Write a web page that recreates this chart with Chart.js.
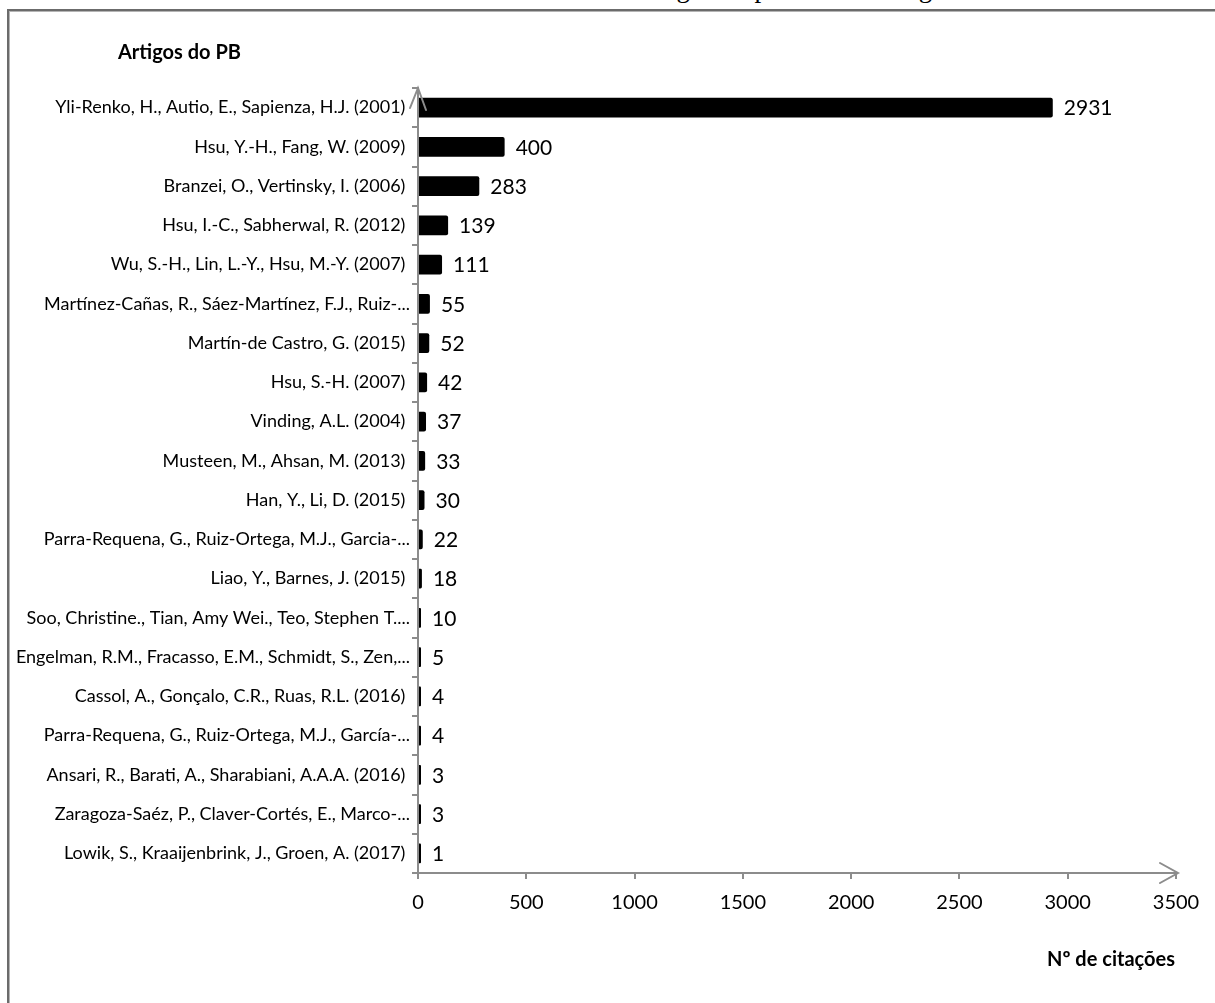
<!DOCTYPE html>
<html lang="pt">
<head>
<meta charset="utf-8">
<script src="https://cdn.jsdelivr.net/npm/chart.js@4.4.1/dist/chart.umd.min.js"></script>
<style>
    html, body { margin: 0; padding: 0; background: #fff; overflow: hidden; }
    #page { position: relative; width: 1215px; height: 1003px; overflow: hidden; }
    #caption {
        position: absolute; left: 60px; width: 1215px; top: -27px;
        text-align: center; font: 27px "Liberation Serif", "DejaVu Serif", serif; color: #000;
        line-height: 30px; white-space: nowrap;
    }
    #frame {
        position: absolute; left: 7px; top: 9px; width: 1300px; height: 1100px;
        border-left: 2px solid #6b6b6b; border-top: 2px solid #6b6b6b;
        box-shadow: inset 1px 1px 0 #b4b4b4;
    }
    #chartBox { position: absolute; left: 0; top: 0; width: 1215px; height: 1003px; }
</style>
</head>
<body>
<div id="page">
    <div id="caption">Gráfico 4 – Relevância dos artigos do portfólio bibliográfico</div>
    <div id="frame"></div>
    <div id="chartBox"><canvas id="citationsChart" width="1215" height="1003"></canvas></div>
</div>
<script>
// Artigos do portfólio bibliográfico e número de citações
const articles = [
    'Yli-Renko, H., Autio, E., Sapienza, H.J. (2001) ',
    'Hsu, Y.-H., Fang, W. (2009) ',
    'Branzei, O., Vertinsky, I. (2006) ',
    'Hsu, I.-C., Sabherwal, R. (2012) ',
    'Wu, S.-H., Lin, L.-Y., Hsu, M.-Y. (2007) ',
    'Martínez-Cañas, R., Sáez-Martínez, F.J., Ruiz-...',
    'Martín-de Castro, G. (2015) ',
    'Hsu, S.-H. (2007) ',
    'Vinding, A.L. (2004) ',
    'Musteen, M., Ahsan, M. (2013) ',
    'Han, Y., Li, D. (2015) ',
    'Parra-Requena, G., Ruiz-Ortega, M.J., Garcia-...',
    'Liao, Y., Barnes, J. (2015) ',
    'Soo, Christine., Tian, Amy Wei., Teo, Stephen T....',
    'Engelman, R.M., Fracasso, E.M., Schmidt, S., Zen,...',
    'Cassol, A., Gonçalo, C.R., Ruas, R.L. (2016) ',
    'Parra-Requena, G., Ruiz-Ortega, M.J., García-...',
    'Ansari, R., Barati, A., Sharabiani, A.A.A. (2016) ',
    'Zaragoza-Saéz, P., Claver-Cortés, E., Marco-...',
    'Lowik, S., Kraaijenbrink, J., Groen, A. (2017) '
];
const citations = [2931, 400, 283, 139, 111, 55, 52, 42, 37, 33, 30, 22, 18, 10, 5, 4, 4, 3, 3, 1];

const xMin = 0;
const xMax = 3500;
const xStep = 500;

const yAxisTitle = 'Artigos do PB';
const xAxisTitle = 'Nº de citações';

const AXIS_GRAY = '#8c8c8c';
const LABEL_FONT = 'Lato, "Open Sans", sans-serif';

// Valores ao lado de cada barra
const valueLabels = {
    id: 'valueLabels',
    afterDatasetsDraw(chart) {
        const { ctx } = chart;
        const meta = chart.getDatasetMeta(0);
        ctx.save();
        ctx.fillStyle = '#000';
        ctx.font = `21px ${LABEL_FONT}`;
        ctx.textBaseline = 'middle';
        ctx.textAlign = 'left';
        meta.data.forEach((bar, i) => {
            ctx.fillText(String(citations[i]), bar.x + 11, bar.y + 1);
        });
        ctx.restore();
    }
};

// Setas nos eixos e títulos dos eixos
const axisDecor = {
    id: 'axisDecor',
    afterDraw(chart) {
        const { ctx, chartArea } = chart;
        const { left, top, right, bottom } = chartArea;
        ctx.save();
        ctx.strokeStyle = AXIS_GRAY;
        ctx.lineWidth = 2;
        ctx.lineCap = 'round';

        // seta do eixo vertical
        ctx.beginPath();
        ctx.moveTo(left - 8, top + 20);
        ctx.lineTo(left, top);
        ctx.lineTo(left + 8, top + 22);
        ctx.stroke();

        // eixo horizontal prolongado com seta
        const tipX = right + 2;
        ctx.beginPath();
        ctx.moveTo(right, bottom);
        ctx.lineTo(tipX, bottom);
        ctx.moveTo(tipX - 18, bottom - 10);
        ctx.lineTo(tipX, bottom);
        ctx.lineTo(tipX - 18, bottom + 10);
        ctx.stroke();

        ctx.fillStyle = '#000';
        ctx.font = `bold 20px ${LABEL_FONT}`;
        ctx.textBaseline = 'middle';
        ctx.textAlign = 'left';
        ctx.fillText(yAxisTitle, 118, 53);
        ctx.textAlign = 'right';
        ctx.fillText(xAxisTitle, 1175, 960);
        ctx.restore();
    }
};

new Chart(document.getElementById('citationsChart'), {
    type: 'bar',
    data: {
        labels: articles,
        datasets: [{
            data: citations,
            backgroundColor: '#000',
            borderColor: '#000',
            borderWidth: 0,
            borderRadius: 2,
            borderSkipped: 'start',
            barPercentage: 0.5,
            categoryPercentage: 1.0,
            minBarLength: 3
        }]
    },
    options: {
        indexAxis: 'y',
        responsive: false,
        animation: false,
        layout: { padding: { left: 0, top: 88, right: 39, bottom: 0 } },
        plugins: {
            legend: { display: false },
            tooltip: { enabled: false },
            title: { display: false }
        },
        scales: {
            x: {
                min: xMin,
                max: xMax,
                ticks: {
                    stepSize: xStep,
                    color: '#000',
                    font: { family: LABEL_FONT, size: 20 },
                    padding: 12,
                    callback: (value) => String(value)
                },
                grid: {
                    drawOnChartArea: false,
                    drawTicks: true,
                    tickLength: 6,
                    color: AXIS_GRAY,
                    lineWidth: 2
                },
                border: { display: true, color: AXIS_GRAY, width: 2 },
                afterFit: (scale) => { scale.height = 1003 - 873; }
            },
            y: {
                ticks: {
                    color: '#000',
                    font: { family: LABEL_FONT, size: 18 },
                    padding: 2,
                    autoSkip: false
                },
                grid: {
                    offset: true,
                    drawOnChartArea: false,
                    drawTicks: true,
                    tickLength: 6,
                    color: AXIS_GRAY,
                    lineWidth: 2
                },
                border: { display: true, color: AXIS_GRAY, width: 2 },
                afterFit: (scale) => { scale.width = 418; }
            }
        }
    },
    plugins: [valueLabels, axisDecor]
});
</script>
</body>
</html>
